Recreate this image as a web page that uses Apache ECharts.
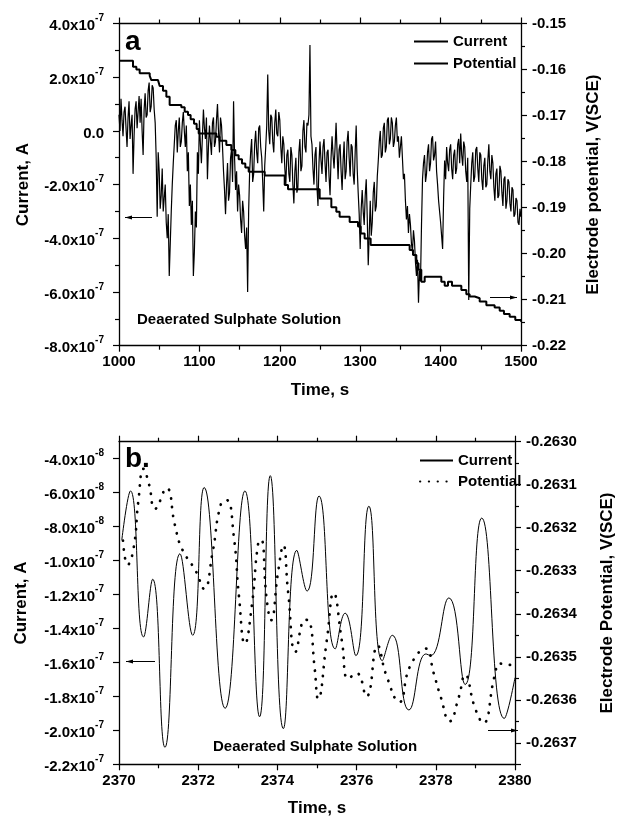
<!DOCTYPE html>
<html>
<head>
<meta charset="utf-8">
<script src="https://cdn.jsdelivr.net/npm/echarts@6/dist/echarts.min.js"></script>
<style>
  html, body { margin: 0; padding: 0; background: #fff; }
  #chart { width: 624px; height: 821px; }
</style>
</head>
<body>
<div id="chart"></div>
<script>
// panel a: current sampled every 1.25 s from 1000 s (units of 1e-7 A)
const timeAStart = 1000
const timeAStep = 1.25
const currentA = [
  0.6, 0.0, 1.2, 0.4, -0.2, 0.7, 0.9, 0.1, -0.6, 0.5, 1.1, -0.3, 0.2, 0.6, -1.6, -0.2, 0.8, 1.1, 0.1, 0.7,
  1.3, 0.3, 1.2, 0.0, -0.9, 0.8, 1.4, 0.5, 0.6, 1.5, 1.8, 0.7, 0.9, 1.7, 1.6, 0.8, 0.3, -1.0, -3.2, -0.8,
  -1.5, -2.9, -2.4, -1.4, -3.0, -2.5, -2.0, -3.4, -4.0, -3.1, -5.4, -4.2, -3.0, -2.0, -1.2, -0.5, 0.2, 0.4, -0.8, 0.0,
  0.5, -0.6, -0.4, 0.3, 0.7, 0.0, -0.6, 0.2, -1.5, -0.8, -2.8, -2.0, -3.5, -2.6, -5.4, -4.5, -3.0, -3.6, -0.8, -1.6,
  0.4, -0.5, -1.2, -0.2, 0.8, 0.1, -0.3, 0.5, -1.8, -0.6, 0.2, -0.4, -0.9, 0.3, 0.5, -0.6, -0.4, 0.4, 1.0, 0.0,
  -0.8, 0.5, 0.2, -0.6, -1.5, -2.2, -3.1, -2.0, -1.2, -2.6, -2.3, -1.0, -0.7, -1.9, 1.1, -1.0, -2.2, -1.5, -3.0, -2.0,
  -2.4, -3.3, -3.8, -2.6, -3.0, -3.9, -4.4, -3.6, -6.0, -3.0, -1.5, -0.8, -0.3, -1.9, -1.6, -0.5, 0.0, -0.8, -1.2, 0.1,
  0.2, -0.6, -1.0, -1.9, -3.0, -1.3, -0.6, 0.2, 2.1, 0.0, -0.5, 0.6, 0.5, -0.4, -0.8, 0.3, 0.8, -0.1, -0.2, 0.7,
  0.4, -0.6, -1.2, -0.2, -0.5, -1.4, -2.0, -0.9, -0.7, -1.6, -1.9, -0.6, -0.9, -2.0, -2.7, -1.5, -1.0, -2.3, -2.1, -0.8,
  -0.3, -1.5, -1.3, 0.0, 0.4, -0.6, -0.8, 0.3, 0.2, 0.6, 3.2, -0.2, -0.5, -1.4, -2.0, -0.9, -0.6, -2.1, -2.8, -1.2,
  -0.4, -1.1, -1.6, -0.6, -0.3, -1.2, -1.9, -0.8, -0.7, -1.7, -2.4, -1.0, -0.2, -0.9, -1.4, -0.6, 0.3, -0.8, -1.8, -0.7,
  -0.5, -1.5, -2.2, -1.1, -0.4, -1.8, -1.5, -0.4, 0.0, -1.0, -1.7, -0.5, -0.6, -1.6, -2.0, -0.8, 0.2, -1.4, -2.3, -3.1,
  -4.4, -2.9, -2.2, -3.0, -3.5, -2.4, -1.8, -3.2, -5.0, -3.8, -2.6, -3.9, -3.4, -2.3, -1.9, -3.0, -2.8, -1.7, -1.1, -0.4,
  0.0, -1.0, -0.9, 0.1, 0.3, -0.8, -0.6, 0.4, 0.5, -0.5, -0.3, 0.5, 0.3, -0.6, -0.4, 0.2, 0.5, -0.4, -0.2, -1.0,
  -0.6, -0.2, -1.0, -1.8, -1.6, -2.6, -3.3, -2.8, -3.8, -3.1, -3.5, -4.2, -4.5, -3.7, -4.1, -4.9, -5.4, -4.8, -6.4, -5.2,
  -5.6, -3.5, -1.8, -1.2, -0.9, -1.9, -1.6, -0.8, -0.5, -1.5, -1.2, -0.3, -0.2, -1.1, -0.9, -0.4, -1.5, -2.0, -2.6, -3.0,
  -3.4, -3.9, -4.4, -2.5, -1.1, -1.8, -0.6, -1.2, -1.5, -0.7, -0.5, -1.4, -1.8, -0.9, -0.7, -1.6, -1.4, -0.5, -0.3, -1.2,
  -0.1, -0.9, -1.3, -0.4, -0.6, -1.5, -1.9, -1.0, -6.3, -2.9, -2.0, -1.2, -0.8, -1.9, -1.7, -0.7, -0.6, -1.4, -1.9, -0.8,
  -0.9, -1.8, -2.2, -1.3, -1.0, -2.1, -2.0, -1.1, -0.5, -1.5, -1.8, -0.9, -1.2, -2.1, -2.6, -1.6, -1.4, -2.5, -2.4, -1.3,
  -1.5, -2.3, -2.8, -1.8, -1.7, -2.9, -2.6, -1.8, -1.9, -2.7, -3.0, -2.1, -2.2, -3.2, -3.1, -2.5, -2.6, -3.4, -3.5, -2.9,
  -3.2
]

// panel a: potential staircase (time of each step, V)
const potATime = [
  1000, 1017.4, 1021.6, 1025.7, 1038.2, 1040.2, 1048.5, 1050.6, 1054.7, 1058.9,
  1063.0, 1077.5, 1081.7, 1085.8, 1089.1, 1093.3, 1096.6, 1099.1, 1121.1, 1125.2,
  1133.5, 1139.7, 1144.7, 1148.8, 1153.0, 1157.1, 1161.3, 1181.2, 1206.1, 1210.2,
  1249.6, 1264.1, 1270.3, 1274.4, 1286.9, 1297.3, 1300.6, 1305.5, 1313.0, 1361.5,
  1365.7, 1369.8, 1372.5, 1376.0, 1380.2, 1400.9, 1405.1, 1409.2, 1414.2, 1425.8,
  1432.0, 1436.1, 1442.4, 1448.6, 1456.9, 1467.2, 1473.5, 1478.8, 1485.9, 1492.9,
  1500
]
const potAValue = [
  -0.1581, -0.1594, -0.1600, -0.1608, -0.1614, -0.1623, -0.1626, -0.1636, -0.1646, -0.1659,
  -0.1677, -0.1682, -0.1692, -0.1699, -0.1708, -0.1718, -0.1729, -0.1739, -0.1746, -0.1755,
  -0.1764, -0.1775, -0.1786, -0.1795, -0.1804, -0.1813, -0.1822, -0.1830, -0.1851, -0.1860,
  -0.1880, -0.1899, -0.1909, -0.1920, -0.1931, -0.1941, -0.1956, -0.1967, -0.1981, -0.1992,
  -0.2003, -0.2021, -0.2035, -0.2061, -0.2050, -0.2061, -0.2070, -0.2061, -0.2070, -0.2079,
  -0.2088, -0.2093, -0.2097, -0.2104, -0.2112, -0.2117, -0.2124, -0.2131, -0.2137, -0.2144,
  -0.2148
]

// panel b: current extremes (s, units of 1e-8 A)
const curBTime = [
  2370.07, 2370.29, 2370.62, 2370.85, 2371.16, 2371.54, 2371.86, 2372.15, 2372.68, 2373.18,
  2373.55, 2373.82, 2374.15, 2374.49, 2374.75, 2375.05, 2375.46, 2375.71, 2375.98, 2376.31,
  2376.65, 2376.90, 2377.32, 2377.75, 2377.87, 2378.33, 2378.74, 2379.16, 2379.73, 2380.0
]
const curBValue = [
  -8.8, -5.9, -14.5, -11.1, -21.0, -9.6, -14.4, -5.7, -18.7, -5.9,
  -19.2, -5.0, -19.9, -9.4, -11.8, -6.2, -15.2, -13.1, -15.6, -6.8,
  -15.9, -14.4, -18.8, -15.5, -15.6, -12.2, -17.3, -7.5, -19.3, -16.9
]

// panel b: potential (s, V)
const potBTime = [
  2370.10, 2370.22, 2370.37, 2370.49, 2370.62, 2370.76, 2370.91, 2371.20, 2371.41, 2371.58,
  2371.94, 2372.15, 2372.36, 2372.57, 2372.72, 2372.90, 2373.03, 2373.18, 2373.36, 2373.51,
  2373.59, 2373.73, 2373.84, 2374.02, 2374.15, 2374.27, 2374.46, 2374.70, 2374.80, 2374.94,
  2375.03, 2375.25, 2375.42, 2375.63, 2375.79, 2376.00, 2376.25, 2376.53, 2376.75, 2377.08,
  2377.35, 2377.75, 2377.94, 2378.12, 2378.35, 2378.58, 2378.74, 2378.99, 2379.20, 2379.49,
  2379.62, 2379.93
]
const potBValue = [
  -0.263230, -0.263286, -0.263247, -0.263137, -0.263063, -0.263100, -0.263156, -0.263108, -0.263193, -0.263247,
  -0.263301, -0.263342, -0.263259, -0.263146, -0.263136, -0.263221, -0.263360, -0.263470, -0.263377, -0.263239,
  -0.263228, -0.263367, -0.263415, -0.263301, -0.263241, -0.263349, -0.263488, -0.263414, -0.263416, -0.263526,
  -0.263598, -0.263460, -0.263352, -0.263464, -0.263551, -0.263538, -0.263592, -0.263474, -0.263543, -0.263605,
  -0.263522, -0.263481, -0.263536, -0.263592, -0.263650, -0.263594, -0.263542, -0.263619, -0.263654, -0.263543,
  -0.263516, -0.263520
]

const FONT = 'Liberation Sans, Arial, sans-serif'

// "4.0x10^-7" style labels
function sciLabel(v) {
  if (Math.abs(v) < 1e-15) return '{m|0.0}'
  const parts = v.toExponential(1).split('e')
  return '{m|' + parts[0] + 'x10}{e|' + parts[1] + '}'
}
const sciRich = {
  m: { fontSize: 15, fontWeight: 'bold', fontFamily: FONT, color: '#000', lineHeight: 20, verticalAlign: 'bottom' },
  e: { fontSize: 10, fontWeight: 'bold', fontFamily: FONT, color: '#000', lineHeight: 20, verticalAlign: 'top' }
}

const axisLine = { show: true, onZero: false, lineStyle: { color: '#000', width: 1.3 } }
const tick = { show: true, length: 6, lineStyle: { color: '#000', width: 1.2 } }
const minor = { show: true, splitNumber: 2, length: 4, lineStyle: { color: '#000', width: 1.2 } }
const labelStyle = { fontSize: 15, fontWeight: 'bold', fontFamily: FONT, color: '#000' }
const nameStyle = { fontSize: 17, fontWeight: 'bold', fontFamily: FONT, color: '#000' }

function xAxes(grid, min, max, interval, top) {
  return {
    type: 'value', gridIndex: grid, min: min, max: max, interval: interval,
    position: top ? 'top' : 'bottom',
    name: top ? '' : 'Time, s', nameLocation: 'middle', nameGap: 36, nameTextStyle: nameStyle,
    axisLine: axisLine, axisTick: tick, minorTick: minor,
    axisLabel: Object.assign({ show: !top, margin: 9, formatter: v => String(v) }, labelStyle),
    splitLine: { show: false }, minorSplitLine: { show: false }
  }
}

const chart = echarts.init(document.getElementById('chart'), null, { renderer: 'canvas' })

const seriesCurA = currentA.map((v, i) => [timeAStart + i * timeAStep, v])
const seriesPotA = potATime.map((t, i) => [t, potAValue[i]])
const seriesCurB = curBTime.map((t, i) => [t, curBValue[i]])
// right axis of panel b is drawn inverted in units of 1e-4 V below -0.2630
const seriesPotB = potBTime.map((t, i) => [t, (-0.2630 - potBValue[i]) * 1e4])

function arrow(x1, x2, y, pointLeft) {
  const tip = pointLeft ? x1 : x2
  const d = pointLeft ? 7 : -7
  return {
    type: 'group',
    children: [
      { type: 'line', shape: { x1: x1, y1: y, x2: x2, y2: y }, style: { stroke: '#000', lineWidth: 1 } },
      { type: 'polygon', shape: { points: [[tip, y], [tip + d, y - 2], [tip + d, y + 2]] }, style: { fill: '#000' } }
    ]
  }
}

const legendText = { fontSize: 15, fontWeight: 'bold', fontFamily: FONT, color: '#000' }
const noSymbol = { color: 'rgba(0,0,0,0)', borderColor: 'rgba(0,0,0,0)', borderWidth: 0, opacity: 0 }

chart.setOption({
  animation: false,
  backgroundColor: '#fff',
  grid: [
    { left: 119, top: 23.5, right: 103, height: 322.2 },
    { left: 119, top: 441.7, right: 104, height: 322.6 }
  ],
  legend: [
    {
      data: ['Current', 'Potential'], orient: 'vertical', left: 408, top: 29,
      itemWidth: 34, itemHeight: 14, itemGap: 7, selectedMode: false, textStyle: legendText,
      itemStyle: noSymbol
    },
    {
      data: ['Current (b)', 'Potential (b)'], orient: 'vertical', left: 414, top: 448,
      itemWidth: 33, itemHeight: 14, itemGap: 6, selectedMode: false, textStyle: legendText,
      itemStyle: noSymbol, formatter: n => n.replace(' (b)', '')
    }
  ],
  xAxis: [
    xAxes(0, 1000, 1500, 100, false),
    xAxes(0, 1000, 1500, 100, true),
    xAxes(1, 2370, 2380, 2, false),
    xAxes(1, 2370, 2380, 2, true)
  ],
  yAxis: [
    {
      type: 'value', gridIndex: 0, min: -8, max: 4, interval: 2, position: 'left',
      name: 'Current, A', nameLocation: 'middle', nameGap: 87, nameRotate: 90, nameTextStyle: nameStyle,
      axisLine: axisLine, axisTick: tick, minorTick: minor, splitLine: { show: false },
      axisLabel: { margin: 15, formatter: v => sciLabel(v * 1e-7), rich: sciRich }
    },
    {
      type: 'value', gridIndex: 0, min: -0.22, max: -0.15, interval: 0.01, position: 'right',
      name: 'Electrode potential, V(SCE)', nameLocation: 'middle', nameGap: 64, nameRotate: 90, nameTextStyle: nameStyle,
      axisLine: axisLine, axisTick: tick, minorTick: minor, splitLine: { show: false },
      axisLabel: Object.assign({ margin: 11, formatter: v => v.toFixed(2) }, labelStyle)
    },
    {
      type: 'value', gridIndex: 1, min: -22, max: -3, interval: 2, position: 'left',
      name: 'Current, A', nameLocation: 'middle', nameGap: 89, nameRotate: 90, nameTextStyle: nameStyle,
      axisLine: axisLine, axisTick: tick, splitLine: { show: false },
      axisLabel: { margin: 15, formatter: v => sciLabel(v * 1e-8), rich: sciRich }
    },
    {
      type: 'value', gridIndex: 1, min: 0, max: 7.5, interval: 1, inverse: true, position: 'right',
      name: 'Electrode Potential, V(SCE)', nameLocation: 'middle', nameGap: 84, nameRotate: 90, nameTextStyle: nameStyle,
      axisLine: axisLine, axisTick: tick, minorTick: minor, splitLine: { show: false },
      axisLabel: Object.assign({ margin: 11, showMaxLabel: false, formatter: v => (-0.2630 - v * 1e-4).toFixed(4) }, labelStyle)
    }
  ],
  series: [
    {
      name: 'Current', type: 'line', xAxisIndex: 0, yAxisIndex: 0, data: seriesCurA,
      symbol: 'none', lineStyle: { color: '#000', width: 1.2 }, itemStyle: { color: '#000' }
    },
    {
      name: 'Potential', type: 'line', xAxisIndex: 0, yAxisIndex: 1, data: seriesPotA, step: 'end',
      symbol: 'none', lineStyle: { color: '#000', width: 2 }, itemStyle: { color: '#000' }
    },
    {
      name: 'Current (b)', type: 'line', xAxisIndex: 2, yAxisIndex: 2, data: seriesCurB, smooth: 0.5,
      symbol: 'none', lineStyle: { color: '#000', width: 1 }, itemStyle: { color: '#000' }
    },
    {
      name: 'Potential (b)', type: 'line', xAxisIndex: 2, yAxisIndex: 3, data: seriesPotB, smooth: 0.5,
      symbol: 'none', lineStyle: { color: '#000', width: 2.7, type: [0.3, 8.5], cap: 'round' }, itemStyle: { color: '#000' }
    }
  ],
  graphic: [
    { type: 'text', left: 125, top: 28, style: { text: 'a', font: 'bold 28px ' + FONT, fill: '#000' } },
    { type: 'text', left: 125, top: 445, style: { text: 'b.', font: 'bold 28px ' + FONT, fill: '#000' } },
    { type: 'text', left: 137, top: 312, style: { text: 'Deaerated Sulphate Solution', font: 'bold 15px ' + FONT, fill: '#000' } },
    { type: 'text', left: 213, top: 739, style: { text: 'Deaerated Sulphate Solution', font: 'bold 15px ' + FONT, fill: '#000' } },
    arrow(125, 152, 217.5, true),
    arrow(490, 517, 297.5, false),
    arrow(126, 155, 661.5, true),
    arrow(488, 518, 730.5, false)
  ]
})
</script>
</body>
</html>
